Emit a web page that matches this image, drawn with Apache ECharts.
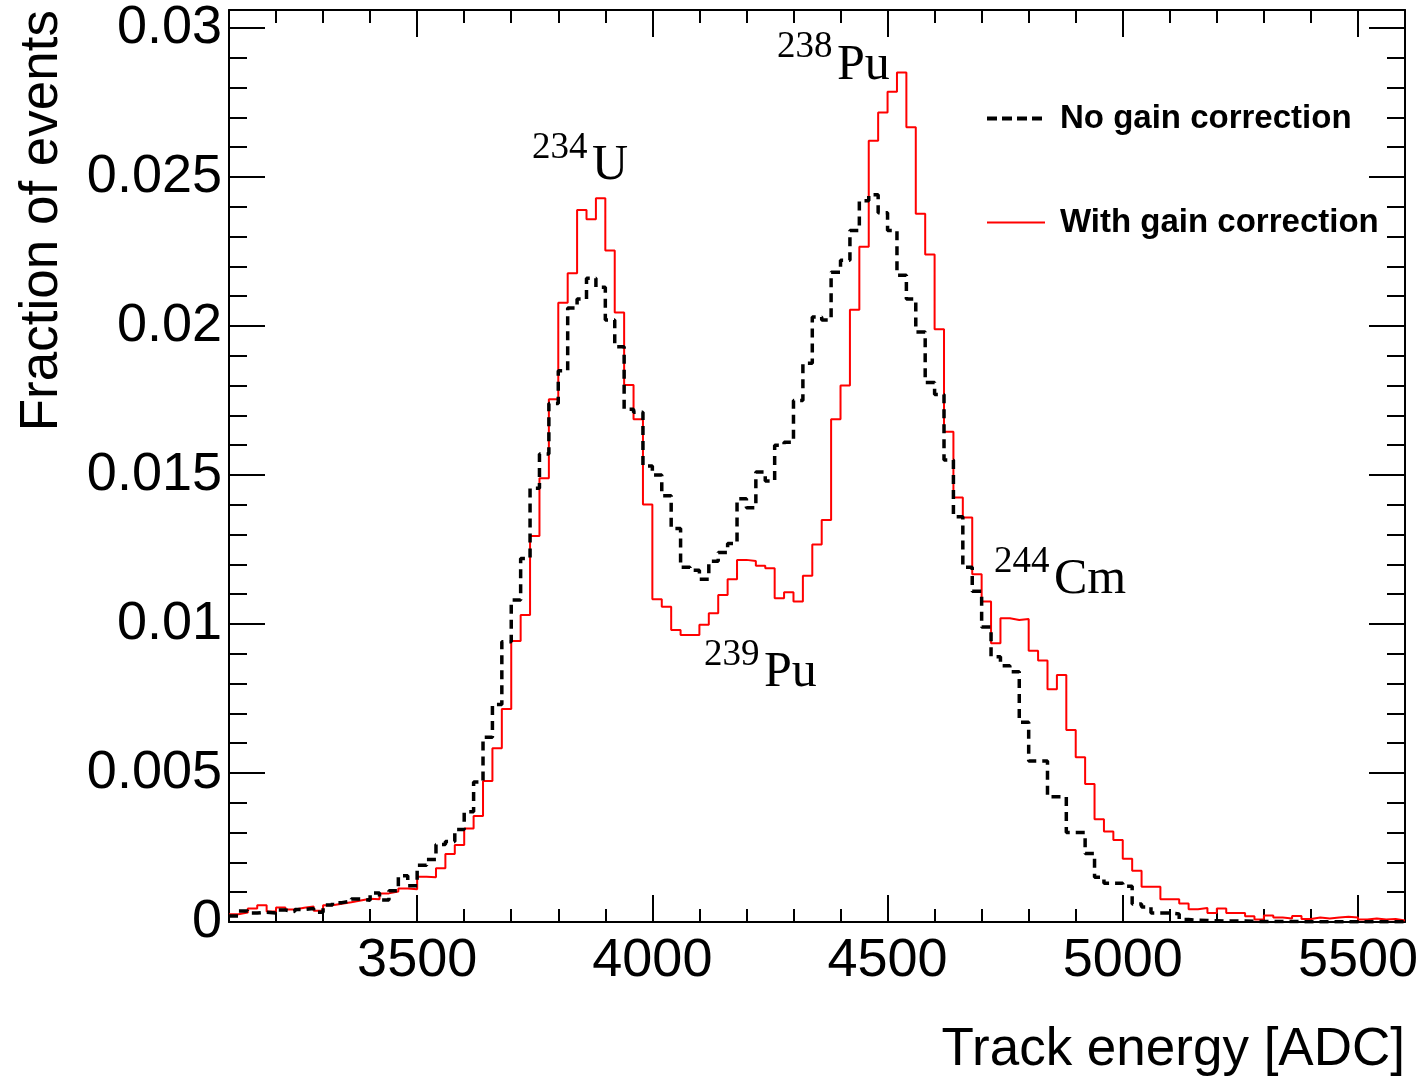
<!DOCTYPE html>
<html><head><meta charset="utf-8">
<script src="https://cdn.jsdelivr.net/npm/echarts@6/dist/echarts.min.js"></script>
<style>html,body{margin:0;padding:0;background:#fff}#c{width:1424px;height:1078px}</style>
</head><body><div id="c"></div>
<script>
// ---- data ----
const BIN_START = 3100;
const BIN_WIDTH = 20;
const BIN_END = 5600;
const X_TICK_LABELS = [3500, 4000, 4500, 5000, 5500];
const Y_TICK_LABELS = [0, 0.005, 0.01, 0.015, 0.02, 0.025, 0.03];
const SERIES_NAMES = ['No gain correction', 'With gain correction'];

const withGain = [
  0.00026, 0.00032, 0.00045, 0.00056, 0.00035, 0.00049, 0.00042, 0.00048, 0.00052, 0.00038,
  0.00056, 0.00061, 0.00066, 0.00072, 0.00078, 0.00076, 0.00096, 0.00102, 0.00112, 0.00110,
  0.00152, 0.00150, 0.00180, 0.00228, 0.00258, 0.00314, 0.00356, 0.00473, 0.00583, 0.00715,
  0.00943, 0.01030, 0.01295, 0.01489, 0.01754, 0.02078, 0.02177, 0.02389, 0.02358, 0.02428,
  0.02253, 0.02045, 0.01802, 0.01687, 0.01401, 0.01083, 0.01058, 0.00980, 0.00963, 0.00963,
  0.00997, 0.01036, 0.01097, 0.01150, 0.01215, 0.01211, 0.01195, 0.01187, 0.01086, 0.01106,
  0.01075, 0.01162, 0.01267, 0.01349, 0.01687, 0.01800, 0.02054, 0.02266, 0.02621, 0.02716,
  0.02786, 0.02850, 0.02667, 0.02376, 0.02240, 0.01989, 0.01645, 0.01424, 0.01357, 0.01167,
  0.01075, 0.00935, 0.01019, 0.01013, 0.01017, 0.00910, 0.00877, 0.00781, 0.00829, 0.00644,
  0.00553, 0.00463, 0.00345, 0.00304, 0.00275, 0.00212, 0.00172, 0.00118, 0.00118, 0.00076,
  0.00076, 0.00062, 0.00043, 0.00047, 0.00030, 0.00045, 0.00030, 0.00030, 0.00019, 0.00008,
  0.00022, 0.00015, 0.00012, 0.00020, 0.00010, 0.00015, 0.00012, 0.00015, 0.00018, 0.00015,
  0.00008, 0.00012, 0.00008, 0.00010, 0.00005
];

const noGain = [
  0.00020, 0.00037, 0.00030, 0.00033, 0.00030, 0.00040, 0.00035, 0.00042, 0.00045, 0.00033,
  0.00057, 0.00065, 0.00070, 0.00077, 0.00073, 0.00097, 0.00074, 0.00105, 0.00155, 0.00122,
  0.00190, 0.00210, 0.00260, 0.00270, 0.00310, 0.00370, 0.00470, 0.00620, 0.00730, 0.00940,
  0.01080, 0.01220, 0.01455, 0.01570, 0.01740, 0.01850, 0.02060, 0.02090, 0.02160, 0.02130,
  0.02020, 0.01930, 0.01720, 0.01710, 0.01530, 0.01500, 0.01430, 0.01320, 0.01190, 0.01180,
  0.01150, 0.01210, 0.01240, 0.01270, 0.01420, 0.01390, 0.01510, 0.01480, 0.01600, 0.01610,
  0.01750, 0.01875, 0.02030, 0.02020, 0.02180, 0.02220, 0.02320, 0.02420, 0.02440, 0.02380,
  0.02320, 0.02170, 0.02090, 0.01980, 0.01810, 0.01770, 0.01550, 0.01360, 0.01190, 0.01110,
  0.00990, 0.00890, 0.00860, 0.00840, 0.00670, 0.00540, 0.00540, 0.00420, 0.00420, 0.00300,
  0.00300, 0.00230, 0.00150, 0.00130, 0.00130, 0.00120, 0.00060, 0.00050, 0.00030, 0.00030,
  0.00027, 0.00008, 0.00006, 0.00005, 0.00004, 0.00003, 0.00003, 0.00003, 0.00002, 0.00002,
  0.00002, 0.00002, 0.00002, 0.00001, 0.00001, 0.00001, 0.00001, 0.00001, 0.00001, 0.00001,
  0.00001, 0.00001, 0.00001, 0.00001, 0.00001
];

// ---- build histogram step points (bin left edges + closing right edge) ----
function histPoints(vals) {
  const pts = vals.map((v, i) => [BIN_START + i * BIN_WIDTH, v]);
  pts.push([BIN_START + vals.length * BIN_WIDTH, vals[vals.length - 1]]);
  return pts;
}

const SANS = '"Liberation Sans", Arial, sans-serif';
const SERIF = '"Liberation Serif", "Times New Roman", serif';
const black = '#000000';
const Y_MAX = 0.0306;

function xAx(pos, major, labels) {
  const a = {
    type: 'value', position: pos, min: BIN_START, max: BIN_END,
    axisLine: { show: major, onZero: false, lineStyle: { color: black, width: 2 } },
    axisTick: { show: true, inside: true, length: major ? 27 : 13, lineStyle: { color: black, width: 2 } },
    axisLabel: { show: false },
    splitLine: { show: false }
  };
  if (major) {
    a.axisTick.customValues = X_TICK_LABELS;
    if (labels) {
      a.axisLabel = {
        show: true, customValues: X_TICK_LABELS, fontSize: 54, fontFamily: SANS, color: black, margin: 12,
        formatter: v => String(Math.round(v))
      };
    }
  } else {
    a.interval = 100;
  }
  return a;
}
function yAx(pos, major, labels) {
  return {
    type: 'value', position: pos, min: 0, max: Y_MAX, interval: major ? 0.005 : 0.001,
    axisLine: { show: major, onZero: false, lineStyle: { color: black, width: 2 } },
    axisTick: { show: true, inside: true, length: major ? 36 : 18, lineStyle: { color: black, width: 2 } },
    axisLabel: labels ? {
      show: true, fontSize: 54, fontFamily: SANS, color: black, margin: 7,
      formatter: v => (v > 0.0301 ? '' : String(+v.toFixed(4)))
    } : { show: false },
    splitLine: { show: false }
  };
}

const DASH_ICON = 'path://M0,0H10V4H0Z M15,0H25V4H15Z M30,0H40V4H30Z M45,0H55V4H45Z';
const LINE_ICON = 'path://M0,0H58V2H0Z';

const chart = echarts.init(document.getElementById('c'), null, { renderer: 'canvas' });
chart.setOption({
  backgroundColor: '#ffffff',
  animation: false,
  grid: { left: 229, right: 19, top: 10, bottom: 156, containLabel: false, outerBoundsMode: 'none' },
  xAxis: [xAx('bottom', true, true), xAx('bottom', false), xAx('top', true, false), xAx('top', false)],
  yAxis: [yAx('left', true, true), yAx('left', false), yAx('right', true, false), yAx('right', false)],
  legend: [
    {
      data: [{ name: SERIES_NAMES[0], icon: DASH_ICON }],
      left: 987, top: 102, padding: 0, itemWidth: 55, itemHeight: 4, selectedMode: false,
      itemStyle: { borderWidth: 0 },
      textStyle: { fontSize: 33, fontWeight: 'bold', fontFamily: SANS, color: black, padding: [0, 0, 0, 13] }
    },
    {
      data: [{ name: SERIES_NAMES[1], icon: LINE_ICON }],
      left: 987, top: 206, padding: 0, itemWidth: 58, itemHeight: 2, selectedMode: false,
      itemStyle: { borderWidth: 0 },
      textStyle: { fontSize: 33, fontWeight: 'bold', fontFamily: SANS, color: black, padding: [0, 0, 0, 10] }
    }
  ],
  series: [
    {
      name: SERIES_NAMES[1], type: 'line', step: 'end', xAxisIndex: 0, yAxisIndex: 0,
      data: histPoints(withGain), symbol: 'none', showSymbol: false, color: '#ff0000',
      lineStyle: { color: '#ff0000', width: 2 }, z: 3
    },
    {
      name: SERIES_NAMES[0], type: 'line', step: 'end', xAxisIndex: 0, yAxisIndex: 0,
      data: histPoints(noGain), symbol: 'none', showSymbol: false, color: black,
      lineStyle: { color: black, width: 3.5, type: [9, 6] }, z: 4
    }
  ],
  graphic: [
    { type: 'text', x: 1405, y: 1050, style: { text: 'Track energy [ADC]', fontSize: 53, fontFamily: SANS, fill: black, textAlign: 'right', textVerticalAlign: 'middle' } },
    { type: 'text', x: 42, y: 10, rotation: Math.PI / 2, style: { text: 'Fraction of events', fontSize: 53, fontFamily: SANS, fill: black, textAlign: 'right', textVerticalAlign: 'middle' } },
    { type: 'text', x: 532, y: 148, style: { text: '234', fontSize: 37, fontFamily: SERIF, fill: black, textAlign: 'left', textVerticalAlign: 'middle' } },
    { type: 'text', x: 592, y: 166, style: { text: 'U', fontSize: 50, fontFamily: SERIF, fill: black, textAlign: 'left', textVerticalAlign: 'middle' } },
    { type: 'text', x: 777, y: 47, style: { text: '238', fontSize: 37, fontFamily: SERIF, fill: black, textAlign: 'left', textVerticalAlign: 'middle' } },
    { type: 'text', x: 837, y: 66, style: { text: 'Pu', fontSize: 50, fontFamily: SERIF, fill: black, textAlign: 'left', textVerticalAlign: 'middle' } },
    { type: 'text', x: 704, y: 655, style: { text: '239', fontSize: 37, fontFamily: SERIF, fill: black, textAlign: 'left', textVerticalAlign: 'middle' } },
    { type: 'text', x: 764, y: 673, style: { text: 'Pu', fontSize: 50, fontFamily: SERIF, fill: black, textAlign: 'left', textVerticalAlign: 'middle' } },
    { type: 'text', x: 994, y: 562, style: { text: '244', fontSize: 37, fontFamily: SERIF, fill: black, textAlign: 'left', textVerticalAlign: 'middle' } },
    { type: 'text', x: 1054, y: 580, style: { text: 'Cm', fontSize: 50, fontFamily: SERIF, fill: black, textAlign: 'left', textVerticalAlign: 'middle' } }
  ]
});
</script>
</body></html>
